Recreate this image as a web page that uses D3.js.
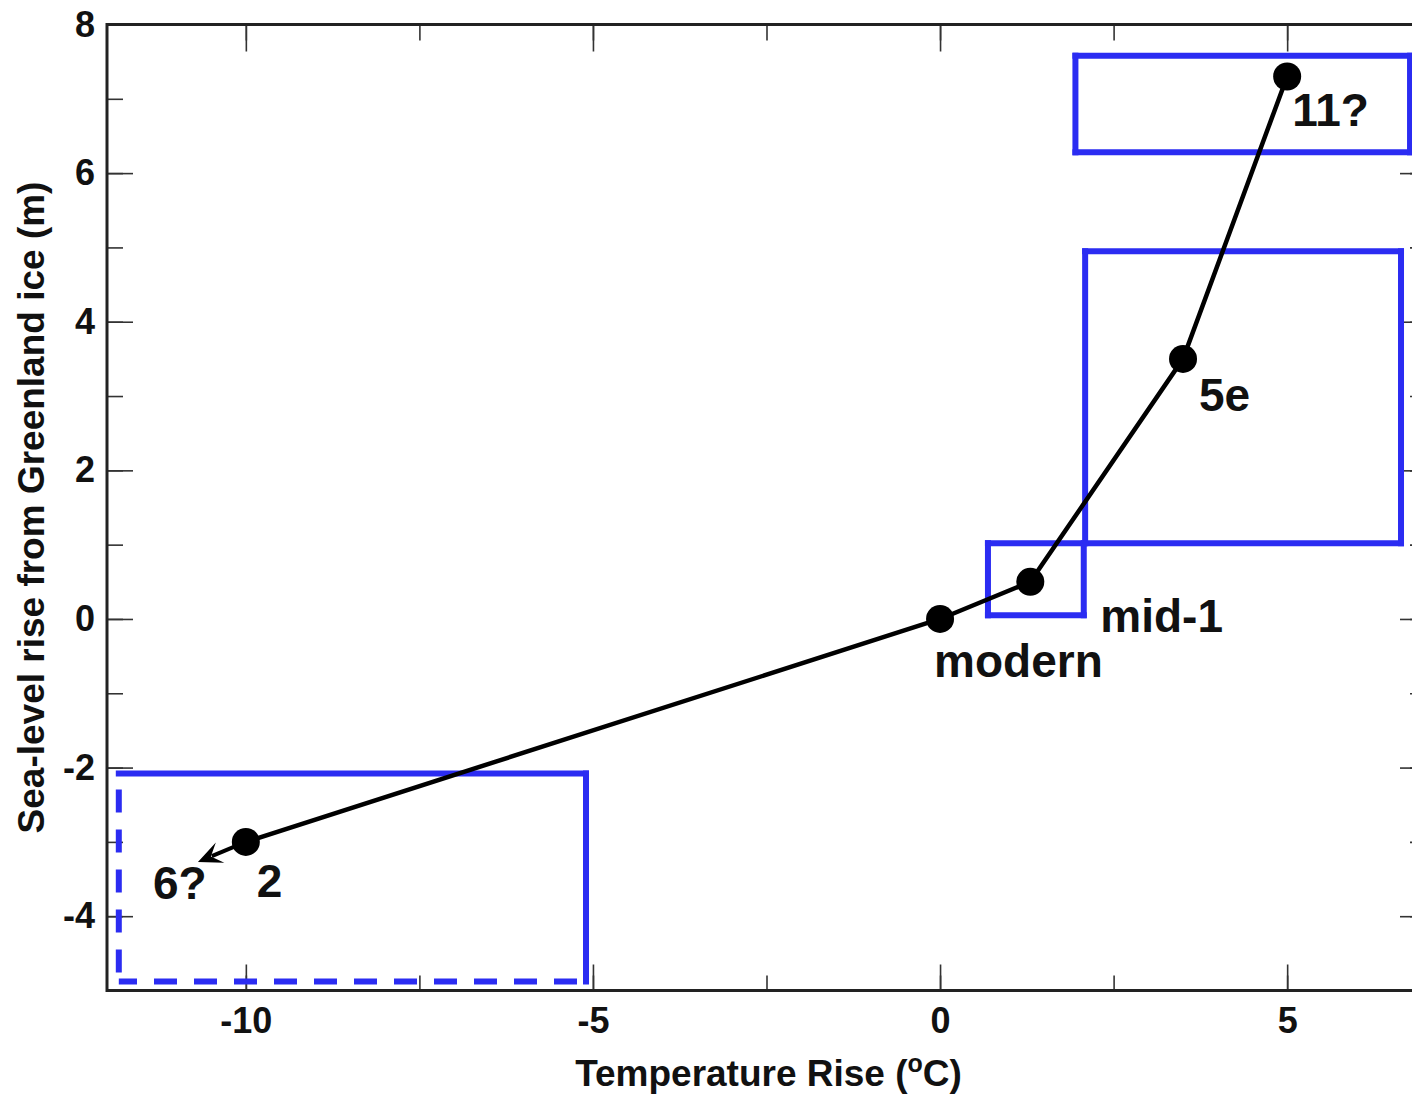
<!DOCTYPE html>
<html>
<head>
<meta charset="utf-8">
<script src="https://cdn.jsdelivr.net/npm/d3@7"></script>
<style>
  html, body { margin: 0; padding: 0; background: #fff; }
  svg { display: block; font-family: 'Liberation Sans', Arial, Helvetica, sans-serif; }
</style>
</head>
<body>
<div id="chart"></div>
<script>
// data
const temps     = [-10, 0, 1.3, 3.5, 5.0]
const seaLevel  = [-3, 0, 0.5, 3.5, 7.3]
const stageName = ['2', 'modern', 'mid-1', '5e', '11?']

// arrow from stage 2 toward the uncertain stage 6
const arrowTip = { t: -10.69, s: -3.27, name: '6?' }

// blue boxes [xMin, xMax, yMin, yMax]
const boxX0 = [1.95, 2.09, 0.69, -11.83]
const boxX1 = [6.77, 6.64, 2.07, -5.10]
const boxY0 = [6.28, 1.02, 0.05, -4.88]
const boxY1 = [7.58, 4.95, 1.02, -2.08]

const xMajor = [-10, -5, 0, 5]
const xMinor = [-10, -7.5, -5, -2.5, 0, 2.5, 5]
const yMajor = [-4, -2, 0, 2, 4, 6, 8]
const yMinor = [-5, -4, -3, -2, -1, 0, 1, 2, 3, 4, 5, 6, 7, 8]

const W = 1412, H = 1094
const margin = { top: 24.5, right: -14, bottom: 103.5, left: 107 }
const innerW = W - margin.left - margin.right
const innerH = H - margin.top - margin.bottom

const x = d3.scaleLinear().domain([-12, 7]).range([0, innerW])
const y = d3.scaleLinear().domain([-5, 8]).range([innerH, 0])

const svg = d3.select('#chart').append('svg')
  .attr('width', W)
  .attr('height', H)

const g = svg.append('g')
  .attr('transform', `translate(${margin.left},${margin.top})`)

// plain hyphen for negatives, like the original
const fmt = d => String(d)

/* ticks, all pointing inward */
function styleAxis(sel) {
  sel.select('.domain').remove()
  sel.selectAll('.tick line').attr('stroke', '#333').attr('stroke-width', 1.6)
  sel.selectAll('.tick text')
    .attr('fill', '#111')
    .attr('font-size', 36)
    .attr('font-weight', 'bold')
}

g.append('g').attr('transform', `translate(0,${innerH})`)
  .call(d3.axisBottom(x).tickValues(xMinor).tickSize(-15).tickFormat(''))
  .call(styleAxis)
g.append('g').attr('transform', `translate(0,${innerH})`)
  .call(d3.axisBottom(x).tickValues(xMajor).tickSize(-26).tickPadding(17).tickFormat(fmt))
  .call(styleAxis)
g.append('g')
  .call(d3.axisTop(x).tickValues(xMinor).tickSize(-16).tickFormat(''))
  .call(styleAxis)
g.append('g')
  .call(d3.axisTop(x).tickValues(xMajor).tickSize(-27).tickFormat(''))
  .call(styleAxis)

g.append('g')
  .call(d3.axisLeft(y).tickValues(yMinor).tickSize(-16).tickFormat(''))
  .call(styleAxis)
g.append('g')
  .call(d3.axisLeft(y).tickValues(yMajor).tickSize(-26).tickPadding(12).tickFormat(fmt))
  .call(styleAxis)
g.append('g').attr('transform', `translate(${innerW},0)`)
  .call(d3.axisRight(y).tickValues(yMinor).tickSize(-16).tickFormat(''))
  .call(styleAxis)
g.append('g').attr('transform', `translate(${innerW},0)`)
  .call(d3.axisRight(y).tickValues(yMajor).tickSize(-26).tickFormat(''))
  .call(styleAxis)

// frame
g.append('rect')
  .attr('width', innerW)
  .attr('height', innerH)
  .attr('fill', 'none')
  .attr('stroke', '#222')
  .attr('stroke-width', 3)

/* blue boxes; the lower-left one has dashed left and bottom sides */
const blue = '#2b2cf2'
boxX0.forEach((x0, i) => {
  const L = x(x0), R = x(boxX1[i]), T = y(boxY1[i]), B = y(boxY0[i])
  const sides = [
    { p: [[L, T], [R, T]], dashed: false },
    { p: [[R, T], [R, B]], dashed: false },
    { p: [[R, B], [L, B]], dashed: i === 3 },
    { p: [[L, B], [L, T]], dashed: i === 3 }
  ]
  sides.forEach(s => {
    g.append('path')
      .attr('d', d3.line()(s.p))
      .attr('fill', 'none')
      .attr('stroke', blue)
      .attr('stroke-width', 6)
      .attr('stroke-linecap', s.dashed ? 'butt' : 'square')
      .attr('stroke-dasharray', s.dashed ? '23 17' : null)
      .attr('stroke-dashoffset', s.dashed ? -9 : null)
  })
})

/* curve */
const pts = temps.map((t, i) => ({ t, s: seaLevel[i], name: stageName[i] }))

g.append('path')
  .datum(pts)
  .attr('d', d3.line().x(d => x(d.t)).y(d => y(d.s)))
  .attr('fill', 'none')
  .attr('stroke', '#000')
  .attr('stroke-width', 4.5)
  .attr('stroke-linejoin', 'round')

/* arrow to 6?, head drawn as a barbed triangle */
const ax0 = x(pts[0].t), ay0 = y(pts[0].s)
const ax1 = x(arrowTip.t), ay1 = y(arrowTip.s)
const ang = Math.atan2(ay1 - ay0, ax1 - ax0)
const headLen = 24, headHalf = 11, notch = 15
const rot = (px, py) => [ax1 + px * Math.cos(ang) - py * Math.sin(ang),
                         ay1 + px * Math.sin(ang) + py * Math.cos(ang)]

g.append('line')
  .attr('x1', ax0).attr('y1', ay0)
  .attr('x2', rot(-notch, 0)[0]).attr('y2', rot(-notch, 0)[1])
  .attr('stroke', '#000')
  .attr('stroke-width', 4)

g.append('path')
  .attr('d', d3.line()([rot(0, 0), rot(-headLen, -headHalf), rot(-notch + 1, 0), rot(-headLen, headHalf)]) + 'Z')
  .attr('fill', '#000')

g.selectAll('circle.pt')
  .data(pts)
  .join('circle')
  .attr('class', 'pt')
  .attr('cx', d => x(d.t))
  .attr('cy', d => y(d.s))
  .attr('r', 14)
  .attr('fill', '#000')

/* stage labels, offsets in px from each point */
const labelOffset = {
  '2': [11, 55],
  'modern': [-6, 58],
  'mid-1': [70, 50],
  '5e': [16, 52],
  '11?': [5, 49]
}
g.selectAll('text.stage')
  .data(pts)
  .join('text')
  .attr('class', 'stage')
  .attr('x', d => x(d.t) + labelOffset[d.name][0])
  .attr('y', d => y(d.s) + labelOffset[d.name][1])
  .attr('font-size', 46)
  .attr('font-weight', 'bold')
  .attr('fill', '#111')
  .text(d => d.name)

g.append('text')
  .attr('x', ax1 - 45)
  .attr('y', ay1 + 37)
  .attr('font-size', 46)
  .attr('font-weight', 'bold')
  .attr('fill', '#111')
  .text(arrowTip.name)

/* axis titles */
const xTitle = g.append('text')
  .attr('x', innerW / 2 + 2)
  .attr('y', innerH + 95)
  .attr('text-anchor', 'middle')
  .attr('font-size', 37)
  .attr('font-weight', 'bold')
  .attr('fill', '#111')
xTitle.append('tspan').text('Temperature Rise (')
xTitle.append('tspan').attr('font-size', 25).attr('dy', -14).text('o')
xTitle.append('tspan').attr('dy', 14).text('C)')

g.append('text')
  .attr('transform', `translate(${44 - margin.left},${innerH / 2}) rotate(-90)`)
  .attr('text-anchor', 'middle')
  .attr('font-size', 37)
  .attr('font-weight', 'bold')
  .attr('fill', '#111')
  .text('Sea-level rise from Greenland ice (m)')
</script>
</body>
</html>
